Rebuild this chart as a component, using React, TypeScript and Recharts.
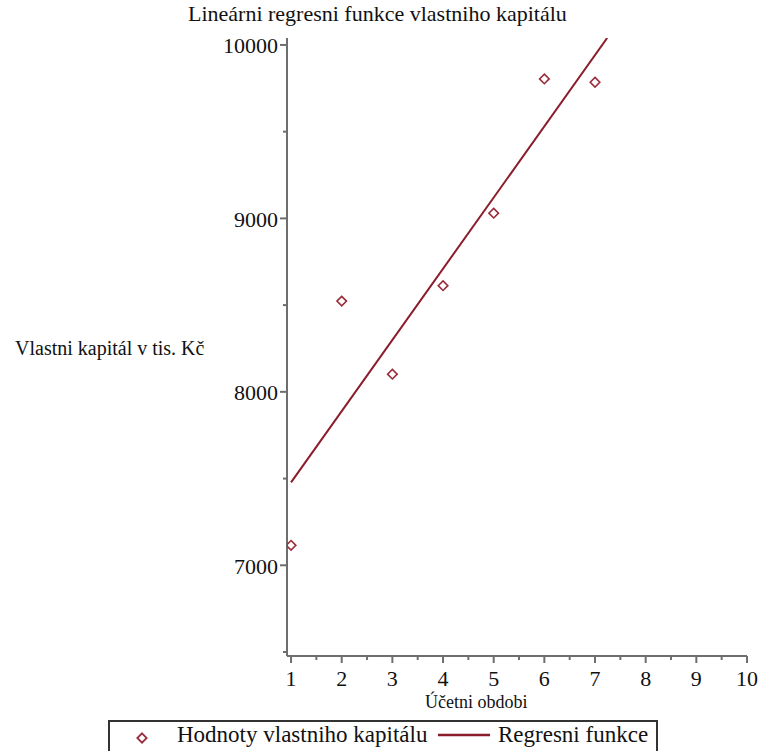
import React from 'react';
import { ComposedChart, Scatter, Line, XAxis, YAxis } from 'recharts';

// observed values (accounting period -> equity, thousands CZK)
const periods = [1, 2, 3, 4, 5, 6, 7];
const capital = [7115, 8523, 8102, 8612, 9030, 9804, 9785];

// regression line endpoints as drawn
const fitX = [1, 7.24];
const fitY = [7478, 10040];

const xTicks = [1, 1.5, 2, 2.5, 3, 3.5, 4, 4.5, 5, 5.5, 6, 6.5, 7, 7.5, 8, 8.5, 9, 9.5, 10];
const yTicks = [6500, 7000, 7500, 8000, 8500, 9000, 9500, 10000];

const points = periods.map((p, i) => ({ x: p, y: capital[i] }));
const fit = fitX.map((p, i) => ({ x: p, y: fitY[i] }));

const FONT = '"Liberation Serif", "Times New Roman", serif';
const AXIS = '#6e6e6e';
const RED = '#8a1c2b';

const Diamond = (props: any) => {
  const { cx, cy } = props;
  const r = 4.8;
  return (
    <polygon
      points={`${cx},${cy - r} ${cx + r},${cy} ${cx},${cy + r} ${cx - r},${cy}`}
      fill="none"
      stroke="#9b2d3a"
      strokeWidth={1.6}
    />
  );
};

const YTick = (props: any) => {
  const { x, y, payload } = props;
  const major = payload.value % 1000 === 0;
  return (
    <g>
      <line x1={x - (major ? 7 : 4)} x2={x} y1={y} y2={y} stroke={AXIS} strokeWidth={2} />
      {major && (
        <text x={x - 9} y={y + 1} textAnchor="end" dominantBaseline="central" fontFamily={FONT} fontSize={22} fill="#111">
          {payload.value}
        </text>
      )}
    </g>
  );
};

const XTick = (props: any) => {
  const { x, y, payload } = props;
  const major = payload.value % 1 === 0;
  return (
    <g>
      <line x1={x} x2={x} y1={y} y2={y + (major ? 7 : 4)} stroke={AXIS} strokeWidth={2} />
      {major && (
        <text x={x} y={y + 22} textAnchor="middle" dominantBaseline="central" fontFamily={FONT} fontSize={22} fill="#111">
          {payload.value}
        </text>
      )}
    </g>
  );
};

export default function App() {
  return (
    <div style={{ position: 'absolute', left: 0, top: 0, width: 758, height: 751, background: '#fff', fontFamily: FONT, overflow: 'hidden' }}>
      <div style={{ position: 'absolute', left: 188, top: 1, fontSize: 22, color: '#111', whiteSpace: 'nowrap' }}>
        Lineárni regresni funkce vlastniho kapitálu
      </div>
      <div style={{ position: 'absolute', left: 15, top: 337, fontSize: 20, color: '#111', whiteSpace: 'nowrap' }}>
        Vlastni kapitál v tis. Kč
      </div>
      <div style={{ position: 'absolute', left: 425, top: 692, fontSize: 18, color: '#111', whiteSpace: 'nowrap' }}>
        Účetni obdobi
      </div>
      <ComposedChart
        width={758}
        height={751}
        margin={{ top: 38, right: 11, bottom: 65, left: 227 }}
        style={{ position: 'absolute', left: 0, top: 0 }}
      >
        <XAxis
          type="number"
          dataKey="x"
          domain={[0.92, 10]}
          allowDataOverflow
          ticks={xTicks}
          interval={0}
          height={30}
          tickSize={0}
          tickMargin={0}
          tickLine={false}
          tick={<XTick />}
          axisLine={{ stroke: AXIS, strokeWidth: 2 }}
        />
        <YAxis
          type="number"
          dataKey="y"
          domain={[6477, 10040]}
          allowDataOverflow
          ticks={yTicks}
          interval={0}
          width={60}
          tickSize={0}
          tickMargin={0}
          tickLine={false}
          tick={<YTick />}
          axisLine={{ stroke: AXIS, strokeWidth: 2 }}
        />
        <Line
          data={fit}
          dataKey="y"
          type="linear"
          stroke={RED}
          strokeWidth={2}
          dot={false}
          activeDot={false}
          isAnimationActive={false}
        />
        <Scatter data={points} dataKey="y" shape={<Diamond />} isAnimationActive={false} />
      </ComposedChart>
      <div
        style={{
          position: 'absolute',
          left: 108,
          top: 720,
          width: 550,
          height: 34,
          border: '2px solid #333',
          boxSizing: 'border-box',
          fontSize: 23,
          color: '#111',
        }}
      >
        <svg width={14} height={14} style={{ position: 'absolute', left: 25, top: 9 }}>
          <polygon points="7,2.3 11.7,7 7,11.7 2.3,7" fill="none" stroke="#9b2d3a" strokeWidth={1.8} />
        </svg>
        <span style={{ position: 'absolute', left: 67, top: 0, whiteSpace: 'nowrap' }}>Hodnoty vlastniho kapitálu</span>
        <svg width={52} height={4} style={{ position: 'absolute', left: 328, top: 11 }}>
          <line x1={0} x2={52} y1={2} y2={2} stroke={RED} strokeWidth={2.5} />
        </svg>
        <span style={{ position: 'absolute', left: 388, top: 0, whiteSpace: 'nowrap' }}>Regresni funkce</span>
      </div>
    </div>
  );
}
